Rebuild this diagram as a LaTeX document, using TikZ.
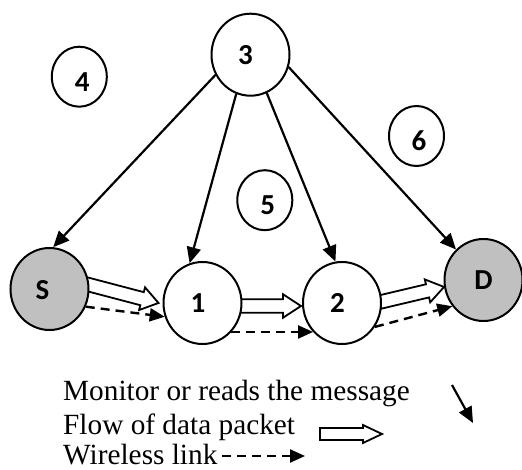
\documentclass[tikz,border=0pt]{standalone}
\usepackage{fontspec}
\setmainfont{Liberation Serif}
\newfontfamily\labelfont{Carlito}
\usetikzlibrary{shapes.geometric,arrows.meta,calc,backgrounds}
\definecolor{nodegray}{RGB}{192,192,192}

% hollow block arrow: #1 start, #2 tip, #3 shaft half-width, #4 head half-width, #5 head length
\newcommand\flowarrow[5]{%
  \coordinate (fa) at (#1);
  \coordinate (fb) at (#2);
  \coordinate (fc) at ($(fb)!#5!(fa)$);
  \draw[flowline] ($(fa)!#3!90:(fb)$) -- ($(fc)!#3!90:(fb)$) -- ($(fc)!#4!90:(fb)$)
    -- (fb) -- ($(fc)!#4!-90:(fb)$) -- ($(fc)!#3!-90:(fb)$) -- ($(fa)!#3!-90:(fb)$) -- cycle;
}

\tikzset{
  station/.style={ellipse, draw, line width=2pt, fill=white, inner sep=0pt},
  bignode/.style={station, minimum width=78pt, minimum height=82pt},
  smallnode/.style={station, minimum width=55pt, minimum height=60pt},
  endnode/.style={bignode, fill=nodegray},
  num/.style={font=\labelfont\bfseries\fontsize{29}{30}\selectfont, inner sep=0pt},
  monitor/.style={line width=2.2pt, -{Triangle[length=16pt,width=14pt]}},
  wireless/.style={line width=2.4pt, dash pattern=on 9pt off 6pt, -{Triangle[length=15pt,width=13pt]}},
  flowline/.style={draw, line width=1.8pt, fill=white, line join=miter},
  legend/.style={font=\fontsize{29.3}{33}\selectfont, inner sep=0pt, text depth=0pt, anchor=base west},
}

\begin{document}
\begin{tikzpicture}[x=1pt, y=-1pt]
  \useasboundingbox (0,0) rectangle (522,470);

  % stations
  \node[bignode, label={[num, xshift=-5pt]center:3}] (n3) at (250.5,54.7) {};
  \node[smallnode, label={[num, xshift=3pt, yshift=-5pt]center:4}] (n4) at (79.3,76.7) {};
  \node[smallnode, label={[num, xshift=3pt, yshift=-5pt]center:5}] (n5) at (264.8,200.2) {};
  \node[smallnode, label={[num, xshift=2.5pt, yshift=-5pt]center:6}] (n6) at (416.5,136) {};
  \node[endnode, label={[num, xshift=-7pt, yshift=-1pt]center:S}] (S) at (49.5,289) {};
  \node[bignode, label={[num, xshift=-4.5pt]center:1}] (n1) at (202.5,303) {};
  \node[bignode, label={[num, xshift=-4.5pt]center:2}] (n2) at (342,303) {};
  \node[endnode, label={[num]center:D}] (D) at (483.5,280) {};

  % node 3 monitors the route
  \draw[monitor] (n3.210) -- (S.85);
  \draw[monitor] (n3.250) -- (n1.108);
  \draw[monitor] (n3.293) -- (n2.99);
  \draw[monitor] (n3.342) -- (D.132);

  % data packet flow
  \begin{scope}[on background layer]
    \flowarrow{$(S.6)!-20pt!($(n1.west)+(-4,0)$)$}{$(n1.west)+(-4,0)$}{6.75pt}{11.75pt}{17pt}
    \flowarrow{$(n1.center)+(0,3)$}{$(n2.west)+(-1,3)$}{6.75pt}{11.75pt}{18pt}
    \flowarrow{$(n2.2)!-20pt!(D.190)$}{D.190}{6.75pt}{11.75pt}{17pt}
  \end{scope}

  % wireless links
  \draw[wireless] (S.334) -- (n1.200);
  \draw[wireless] (n1.315) -- (n2.225);
  \draw[wireless] (n2.324) -- (D.220);

  % legend
  \node[legend] (tmon) at (63,400) {Monitor or reads the message};
  \node[legend] (tflow) at (63,434) {Flow of data packet};
  \node[legend] (twl) at (63,464.5) {Wireless link};
  \coordinate (mon a) at (452,385);
  \coordinate (mon b) at (473,423);
  \draw[monitor] (mon a) -- (mon b);
  \flowarrow{320,434}{382,434}{6pt}{9pt}{19pt}
  \coordinate (wl a) at (222,456);
  \coordinate (wl b) at (305,456);
  \draw[wireless] (wl a) -- (wl b);
\end{tikzpicture}
\end{document}
